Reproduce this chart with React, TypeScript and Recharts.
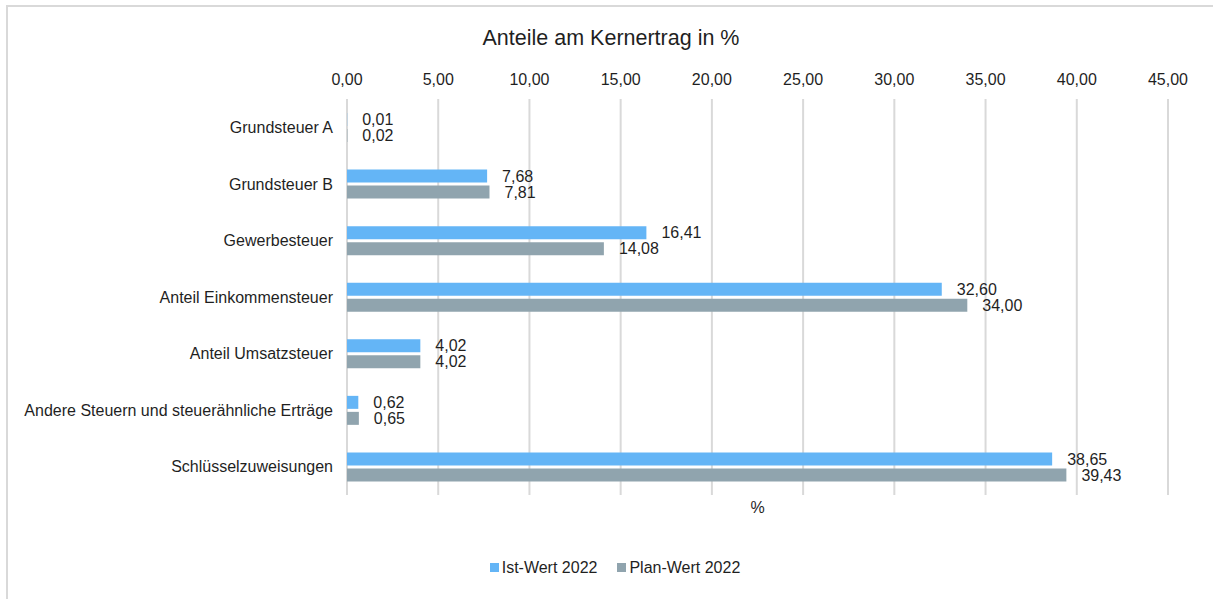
import { BarChart, Bar, XAxis, YAxis, CartesianGrid, LabelList } from 'recharts'

const categories = [
  'Grundsteuer A',
  'Grundsteuer B',
  'Gewerbesteuer',
  'Anteil Einkommensteuer',
  'Anteil Umsatzsteuer',
  'Andere Steuern und steuerähnliche Erträge',
  'Schlüsselzuweisungen',
]
const istWert = [0.01, 7.68, 16.41, 32.6, 4.02, 0.62, 38.65]
const planWert = [0.02, 7.81, 14.08, 34.0, 4.02, 0.65, 39.43]
const xTicks = [0, 5, 10, 15, 20, 25, 30, 35, 40, 45]

const data = categories.map((name, i) => ({ name, ist: istWert[i], plan: planWert[i] }))

const BLUE = '#64B5F6'
const GREY = '#90A4AE'
const TEXT = '#1f1f1f'
const FONT = '"Liberation Sans", Arial, sans-serif'

const fmt = (v: unknown) => Number(v).toFixed(2).replace('.', ',')

function LegendItem({ color, label }: { color: string; label: string }) {
  return (
    <span style={{ display: 'inline-flex', alignItems: 'center', marginRight: 20 }}>
      <span style={{ width: 9, height: 9, background: color, display: 'inline-block', marginRight: 3 }} />
      {label}
    </span>
  )
}

export default function App() {
  return (
    <div
      style={{
        position: 'absolute',
        left: 0,
        top: 0,
        width: 1213,
        height: 599,
        background: '#fff',
        fontFamily: FONT,
        color: TEXT,
        overflow: 'hidden',
      }}
    >
      <div
        style={{
          position: 'absolute',
          left: 6,
          top: 5,
          width: 1260,
          height: 640,
          borderTop: '2px solid #d9d9d9',
          borderLeft: '2px solid #d9d9d9',
        }}
      />
      <div
        style={{
          position: 'absolute',
          left: 0,
          width: 1222,
          top: 26,
          textAlign: 'center',
          fontSize: 21.5,
        }}
      >
        Anteile am Kernertrag in %
      </div>
      <div style={{ position: 'absolute', left: 0, top: 0 }}>
        <BarChart
          width={1213}
          height={599}
          data={data}
          layout="vertical"
          margin={{ top: 69, right: 45, bottom: 104, left: 7 }}
          barSize={13}
          barGap={3}
        >
          <CartesianGrid horizontal={false} stroke="#d9d9d9" strokeWidth={2} />
          <XAxis
            type="number"
            orientation="top"
            height={30}
            domain={[0, 45]}
            ticks={xTicks}
            tickFormatter={fmt}
            axisLine={false}
            tickLine={false}
            tickMargin={8}
            tick={{ fontSize: 16, fill: TEXT, fontFamily: FONT }}
            interval={0}
          />
          <YAxis
            type="category"
            dataKey="name"
            width={340}
            axisLine={false}
            tickLine={false}
            tickMargin={8}
            tick={{ fontSize: 16, fill: TEXT, fontFamily: FONT }}
            interval={0}
          />
          <Bar dataKey="ist" fill={BLUE} isAnimationActive={false}>
            <LabelList
              dataKey="ist"
              position="right"
              offset={15}
              formatter={fmt}
              style={{ fontSize: 16, fill: TEXT, fontFamily: FONT }}
            />
          </Bar>
          <Bar dataKey="plan" fill={GREY} isAnimationActive={false}>
            <LabelList
              dataKey="plan"
              position="right"
              offset={15}
              formatter={fmt}
              style={{ fontSize: 16, fill: TEXT, fontFamily: FONT }}
            />
          </Bar>
        </BarChart>
      </div>
      <div
        style={{
          position: 'absolute',
          left: 347,
          width: 821,
          top: 499,
          textAlign: 'center',
          fontSize: 16,
        }}
      >
        %
      </div>
      <div
        style={{
          position: 'absolute',
          left: 0,
          width: 1250,
          top: 558,
          textAlign: 'center',
          fontSize: 16,
        }}
      >
        <LegendItem color={BLUE} label="Ist-Wert 2022" />
        <LegendItem color={GREY} label="Plan-Wert 2022" />
      </div>
    </div>
  )
}
